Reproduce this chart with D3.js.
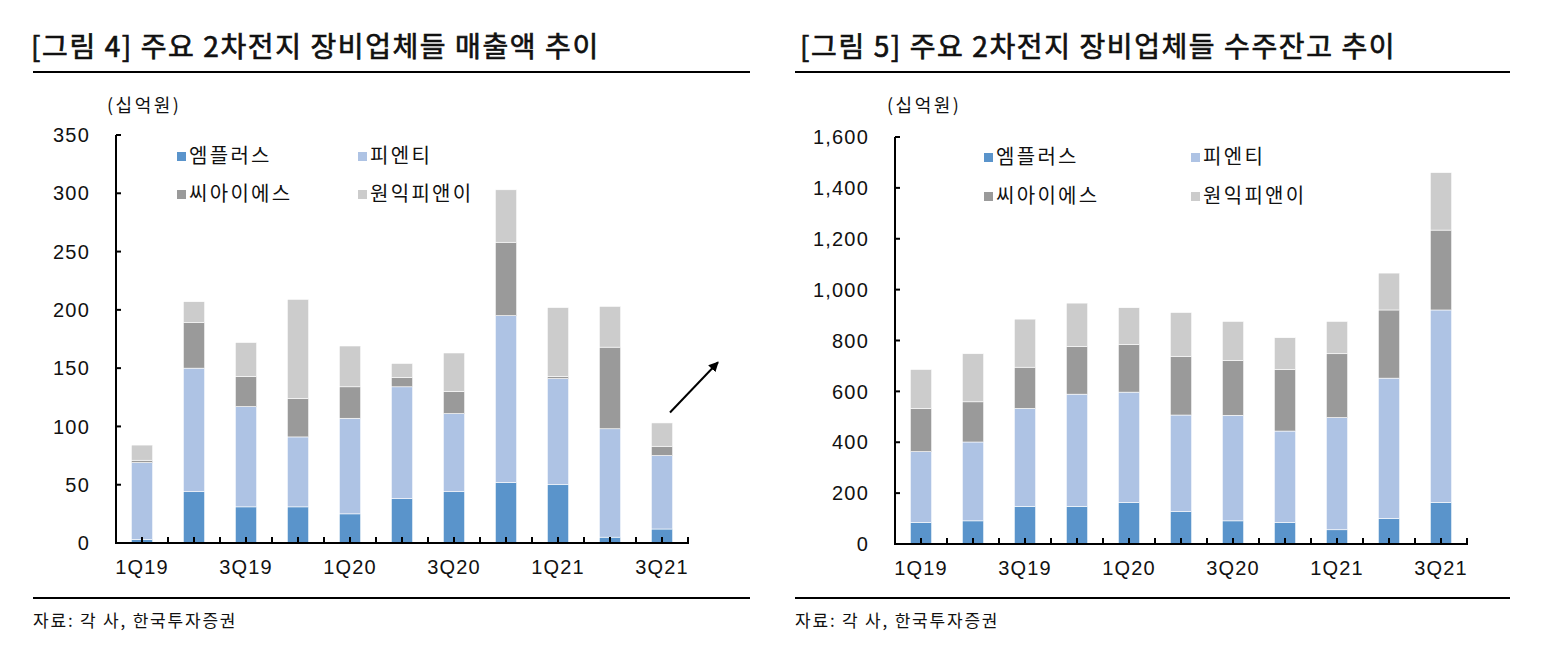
<!DOCTYPE html>
<html>
<head>
<meta charset="utf-8">
<script src="https://cdn.jsdelivr.net/npm/d3@7"></script>
<style>
  html, body { margin: 0; padding: 0; background: #fff; }
  svg { display: block; }
</style>
</head>
<body>
<script>
// 분기 라벨과 업체명
const quarters = ["1Q19", "2Q19", "3Q19", "4Q19", "1Q20", "2Q20", "3Q20", "4Q20", "1Q21", "2Q21", "3Q21"];
const companies = ["엠플러스", "피엔티", "씨아이에스", "원익피앤이"];
const colors = ["#5a94cb", "#aec3e4", "#9a9a9a", "#cccccc"];

// [그림 4] 매출액 (십억원)
const salesMplus = [3, 44, 31, 31, 25, 38, 44, 52, 50, 5, 12];
const salesPnt   = [66, 106, 86, 60, 82, 96, 67, 143, 91, 93, 63];
const salesCis   = [2, 39, 26, 33, 27, 8, 19, 63, 2, 70, 8];
const salesWonik = [13, 18, 29, 85, 35, 12, 33, 45, 59, 35, 20];
const salesTicks = [0, 50, 100, 150, 200, 250, 300, 350];

// [그림 5] 수주잔고 (십억원)
const backlogMplus = [85, 91, 148, 148, 163, 127, 91, 85, 56, 101, 163];
const backlogPnt   = [278, 310, 385, 441, 434, 380, 415, 359, 441, 551, 757];
const backlogCis   = [170, 158, 162, 187, 187, 231, 216, 242, 251, 268, 314];
const backlogWonik = [153, 189, 189, 171, 145, 172, 153, 125, 127, 145, 226];
const backlogTicks = [0, 200, 400, 600, 800, 1000, 1200, 1400, 1600];

const labelQuarters = ["1Q19", "3Q19", "1Q20", "3Q20", "1Q21", "3Q21"];

const width = 1544, height = 668;
const svg = d3.select("body").append("svg")
  .attr("width", width)
  .attr("height", height);

const defs = svg.append("defs");
defs.append("marker")
  .attr("id", "arrow")
  .attr("viewBox", "0 0 10 10")
  .attr("refX", 9).attr("refY", 5)
  .attr("markerWidth", 5).attr("markerHeight", 5)
  .attr("orient", "auto")
  .append("path")
  .attr("d", "M0,0L10,5L0,10z")
  .attr("fill", "#000");

const KR = "'Noto Sans CJK KR', sans-serif";
const NUM = "'Liberation Sans', Arial, sans-serif";

function drawChart(opt) {
  const g = svg.append("g");
  const rows = quarters.map((q, i) => {
    const r = { q };
    companies.forEach((c, k) => r[c] = opt.series[k][i]);
    return r;
  });
  const stacked = d3.stack().keys(companies)(rows);

  const x = d3.scaleBand().domain(quarters).range([opt.left, opt.right]);
  const y = d3.scaleLinear().domain([0, d3.max(opt.ticks)]).range([opt.bottom, opt.top]);
  const bw = x.bandwidth() * 0.41;

  // 제목 + 밑줄
  g.append("text")
    .attr("x", opt.titleX).attr("y", 57)
    .attr("font-family", KR)
    .attr("font-size", 28)
    .attr("letter-spacing", 1.6)
    .attr("fill", "#111")
    .attr("stroke", "#111")
    .attr("stroke-width", 0.7)
    .text(opt.title);
  g.append("line")
    .attr("x1", opt.lineX1).attr("x2", opt.lineX2)
    .attr("y1", 72).attr("y2", 72)
    .attr("stroke", "#000").attr("stroke-width", 2);

  // 단위
  g.append("text")
    .attr("x", opt.unitX).attr("y", 112)
    .attr("font-family", KR)
    .attr("font-size", 18)
    .attr("letter-spacing", 2.5)
    .attr("fill", "#111")
    .text("(십억원)");

  // 막대
  g.append("g")
    .selectAll("g")
    .data(stacked)
    .join("g")
    .attr("fill", (d, i) => colors[i])
    .selectAll("rect")
    .data(d => d)
    .join("rect")
    .attr("x", d => x(d.data.q) + (x.bandwidth() - bw) / 2)
    .attr("width", bw)
    .attr("y", d => y(d[1]))
    .attr("height", d => Math.max(0, y(d[0]) - y(d[1])))
    .attr("stroke", "#fff")
    .attr("stroke-width", 0.6);

  // y축
  const ya = g.append("g");
  ya.append("line")
    .attr("x1", opt.left).attr("x2", opt.left)
    .attr("y1", y(d3.max(opt.ticks))).attr("y2", opt.bottom)
    .attr("stroke", "#000").attr("stroke-width", 2);
  ya.selectAll("line.t")
    .data(opt.ticks)
    .join("line")
    .attr("class", "t")
    .attr("x1", opt.left).attr("x2", opt.left + 5)
    .attr("y1", d => y(d)).attr("y2", d => y(d))
    .attr("stroke", "#000").attr("stroke-width", 2);
  ya.selectAll("text")
    .data(opt.ticks)
    .join("text")
    .attr("x", opt.left - 26)
    .attr("y", d => y(d))
    .attr("dy", "0.36em")
    .attr("text-anchor", "end")
    .attr("font-family", NUM)
    .attr("font-size", 20)
    .attr("letter-spacing", 1.2)
    .attr("fill", "#111")
    .text(d => d3.format(",")(d));

  // x축
  const xa = g.append("g");
  xa.append("line")
    .attr("x1", opt.left - 1).attr("x2", opt.right + 1)
    .attr("y1", opt.bottom).attr("y2", opt.bottom)
    .attr("stroke", "#000").attr("stroke-width", 2);
  const tickPos = quarters.map(q => x(q) + x.bandwidth() / 2)
    .concat(quarters.map(q => x(q) + x.bandwidth()));
  xa.selectAll("line.t")
    .data(tickPos)
    .join("line")
    .attr("class", "t")
    .attr("x1", d => d).attr("x2", d => d)
    .attr("y1", opt.bottom).attr("y2", opt.bottom - 6)
    .attr("stroke", "#000").attr("stroke-width", 2);
  xa.selectAll("text")
    .data(labelQuarters)
    .join("text")
    .attr("x", d => x(d) + x.bandwidth() / 2)
    .attr("y", opt.bottom + 31)
    .attr("text-anchor", "middle")
    .attr("font-family", NUM)
    .attr("font-size", 20)
    .attr("letter-spacing", 1.2)
    .attr("fill", "#111")
    .text(d => d);

  // 범례
  const lg = g.append("g");
  const item = lg.selectAll("g")
    .data(companies)
    .join("g")
    .attr("transform", (d, i) => `translate(${opt.legendX[i % 2]},${opt.legendY[Math.floor(i / 2)]})`);
  item.append("rect")
    .attr("x", 0).attr("y", -11)
    .attr("width", 9).attr("height", 9)
    .attr("fill", (d, i) => colors[i]);
  item.append("text")
    .attr("x", 12).attr("y", 0)
    .attr("font-family", KR)
    .attr("font-size", 20)
    .attr("letter-spacing", 2.3)
    .attr("fill", "#111")
    .text(d => d);

  // 하단 선 + 출처
  g.append("line")
    .attr("x1", opt.lineX1).attr("x2", opt.lineX2)
    .attr("y1", 598).attr("y2", 598)
    .attr("stroke", "#000").attr("stroke-width", 2);
  g.append("text")
    .attr("x", opt.lineX1).attr("y", 627)
    .attr("font-family", KR)
    .attr("font-size", 17)
    .attr("letter-spacing", 1.8)
    .attr("fill", "#111")
    .text("자료: 각 사, 한국투자증권");

  return { g, x, y };
}

const left = drawChart({
  title: "[그림 4] 주요 2차전지 장비업체들 매출액 추이",
  series: [salesMplus, salesPnt, salesCis, salesWonik],
  ticks: salesTicks,
  left: 116, right: 688, top: 135, bottom: 543,
  titleX: 31, lineX1: 33, lineX2: 750, unitX: 107,
  legendX: [177, 358], legendY: [163, 201]
});

drawChart({
  title: "[그림 5] 주요 2차전지 장비업체들 수주잔고 추이",
  series: [backlogMplus, backlogPnt, backlogCis, backlogWonik],
  ticks: backlogTicks,
  left: 895, right: 1467, top: 137, bottom: 544,
  titleX: 800, lineX1: 795, lineX2: 1510, unitX: 887,
  legendX: [984, 1191], legendY: [164, 203]
});

// 3Q21 옆 상승 화살표
const last = quarters[quarters.length - 1];
left.g.append("line")
  .attr("x1", left.x(last) + left.x.bandwidth() / 2 + 8)
  .attr("y1", left.y(112))
  .attr("x2", left.x(last) + left.x.bandwidth() + 30)
  .attr("y2", left.y(155))
  .attr("stroke", "#000")
  .attr("stroke-width", 2)
  .attr("marker-end", "url(#arrow)");
</script>
</body>
</html>
